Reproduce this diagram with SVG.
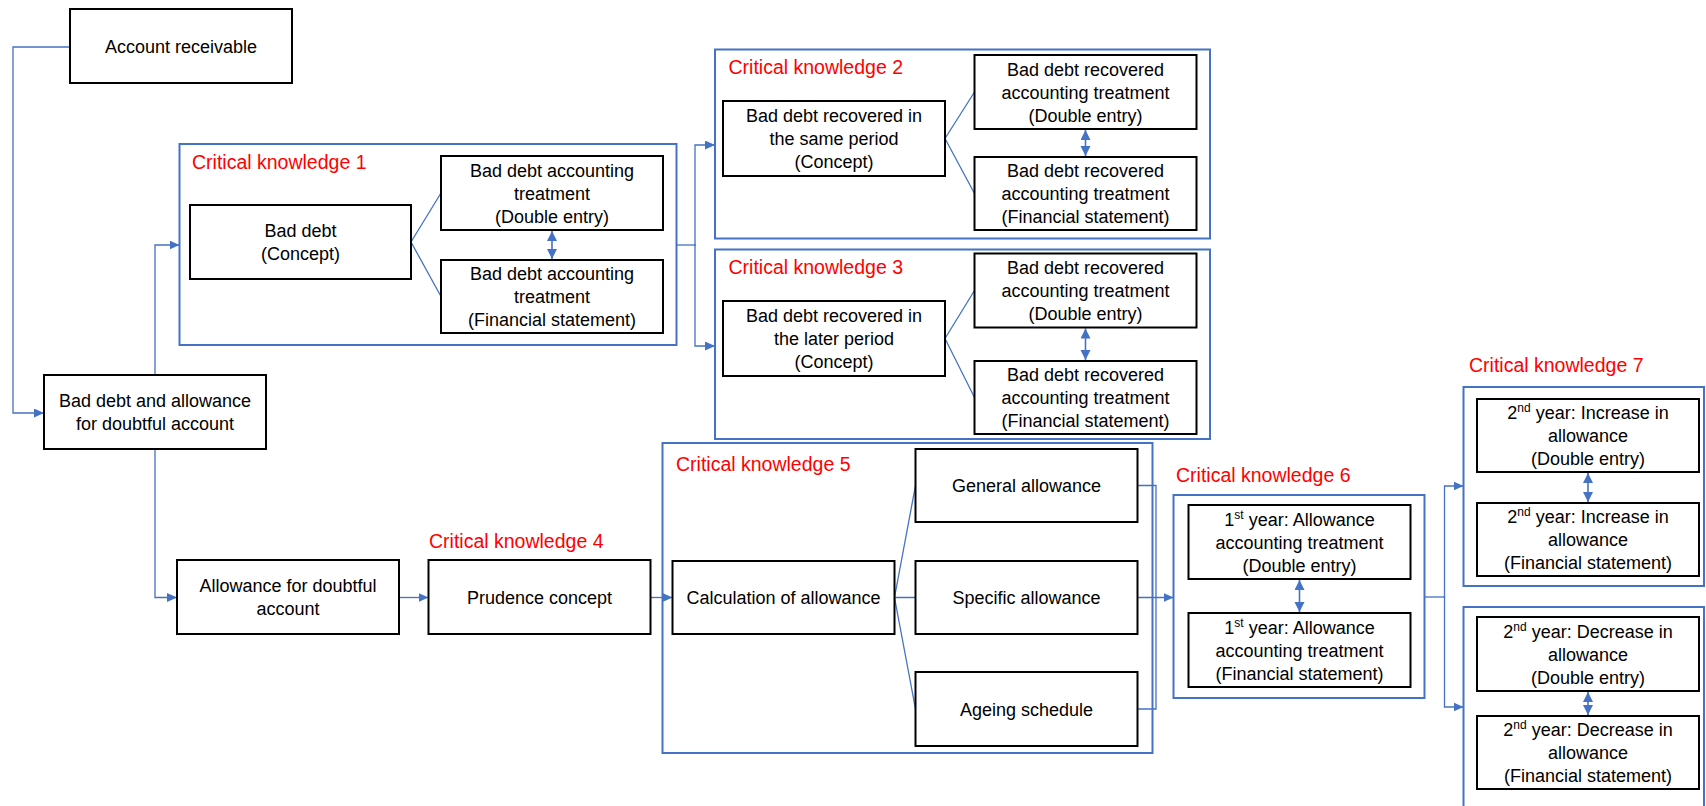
<svg xmlns="http://www.w3.org/2000/svg" width="1706" height="806" viewBox="0 0 1706 806">
<style>
.box{fill:#fff;stroke:#000;stroke-width:2}
.ck{fill:none;stroke:#4472C4;stroke-width:2}
.t{font-family:"Liberation Sans",Arial,sans-serif;font-size:18px;fill:#000;text-anchor:middle}
.ckt{font-family:"Liberation Sans",Arial,sans-serif;font-size:19.5px;fill:#FF0000}
.c{fill:none;stroke:#4472C4;stroke-width:1.3}
.a{marker-end:url(#ah)}
.d{fill:none;stroke:#4472C4;stroke-width:1.6;marker-start:url(#ah2);marker-end:url(#ah2)}
.sup{font-size:12px}
</style>
<defs>
<marker id="ah" markerUnits="userSpaceOnUse" markerWidth="11" markerHeight="10" refX="10" refY="4.5" orient="auto"><path d="M0,0 L10,4.5 L0,9 z" fill="#4472C4"/></marker>
<marker id="ah2" markerUnits="userSpaceOnUse" markerWidth="11" markerHeight="11" refX="10" refY="5" orient="auto-start-reverse"><path d="M0,0 L10,5 L0,10 z" fill="#4472C4"/></marker>
</defs>
<rect width="1706" height="806" fill="#fff"/>

<g id="connectors">
<path class="c a" d="M70,47 H13 V413 H44"/>
<path class="c a" d="M155,375 V245 H179.5"/>
<path class="c a" d="M155,449 V597.5 H177"/>
<path class="c a" d="M399,597.5 H428.5"/>
<path class="c a" d="M650.5,597.5 H672.5"/>
<path class="c" d="M676.5,245 H695"/>
<path class="c a" d="M695,246 V145 H715"/>
<path class="c a" d="M695,244 V346 H715"/>
<path class="c" d="M411,242 L441,193 M411,242 L441,296.5"/>
<path class="c" d="M945,138.5 L974.5,92 M945,138.5 L974.5,193.5"/>
<path class="c" d="M945,338.5 L974.5,290.5 M945,338.5 L974.5,397.5"/>
<path class="c" d="M894.5,597.5 L915.5,485.5 M894.5,597.5 L915.5,597.5 M894.5,597.5 L915.5,709"/>
<path class="c" d="M1137.5,485.5 H1156 V709 H1137.5"/>
<path class="c a" d="M1137.5,597.5 H1173.5"/>
<path class="c" d="M1424.5,597 H1444.5"/>
<path class="c a" d="M1444.5,598 V486 H1463.5"/>
<path class="c a" d="M1444.5,596 V707 H1463.5"/>
<path class="d" d="M552,231 V259"/>
<path class="d" d="M1085.5,130 V156"/>
<path class="d" d="M1085.5,328.5 V360"/>
<path class="d" d="M1299.5,580 V612"/>
<path class="d" d="M1588,473 V502"/>
<path class="d" d="M1588,692 V715"/>
</g>

<g id="ar"><rect class="box" x="70" y="9" width="222" height="74"/><text class="t" x="181" y="52.5">Account receivable</text></g>
<g id="bda"><rect class="box" x="44" y="375" width="222" height="74"/><text class="t" x="155" y="407">Bad debt and allowance</text><text class="t" x="155" y="430">for doubtful account</text></g>

<g id="ck1"><rect class="ck" x="179.5" y="144" width="497" height="201"/><text class="ckt" x="192" y="169">Critical knowledge 1</text></g>
<g id="ck1-concept"><rect class="box" x="190" y="205" width="221" height="74"/><text class="t" x="300.5" y="237">Bad debt</text><text class="t" x="300.5" y="260">(Concept)</text></g>
<g id="ck1-de"><rect class="box" x="441" y="156" width="222" height="74"/><text class="t" x="552" y="176.5">Bad debt accounting</text><text class="t" x="552" y="199.5">treatment</text><text class="t" x="552" y="222.5">(Double entry)</text></g>
<g id="ck1-fs"><rect class="box" x="441" y="260" width="222" height="73"/><text class="t" x="552" y="280">Bad debt accounting</text><text class="t" x="552" y="303">treatment</text><text class="t" x="552" y="326">(Financial statement)</text></g>

<g id="ck2"><rect class="ck" x="715" y="49.5" width="495" height="189"/><text class="ckt" x="728.5" y="74">Critical knowledge 2</text></g>
<g id="ck2-concept"><rect class="box" x="723" y="101" width="222" height="75"/><text class="t" x="834" y="122">Bad debt recovered in</text><text class="t" x="834" y="145">the same period</text><text class="t" x="834" y="168">(Concept)</text></g>
<g id="ck2-de"><rect class="box" x="974.5" y="55" width="222" height="74"/><text class="t" x="1085.5" y="75.5">Bad debt recovered</text><text class="t" x="1085.5" y="98.5">accounting treatment</text><text class="t" x="1085.5" y="121.5">(Double entry)</text></g>
<g id="ck2-fs"><rect class="box" x="974.5" y="157" width="222" height="73"/><text class="t" x="1085.5" y="177">Bad debt recovered</text><text class="t" x="1085.5" y="200">accounting treatment</text><text class="t" x="1085.5" y="223">(Financial statement)</text></g>

<g id="ck3"><rect class="ck" x="715" y="249.5" width="495" height="189.5"/><text class="ckt" x="728.5" y="274">Critical knowledge 3</text></g>
<g id="ck3-concept"><rect class="box" x="723" y="301" width="222" height="75"/><text class="t" x="834" y="322">Bad debt recovered in</text><text class="t" x="834" y="345">the later period</text><text class="t" x="834" y="368">(Concept)</text></g>
<g id="ck3-de"><rect class="box" x="974.5" y="253.5" width="222" height="74"/><text class="t" x="1085.5" y="274">Bad debt recovered</text><text class="t" x="1085.5" y="297">accounting treatment</text><text class="t" x="1085.5" y="320">(Double entry)</text></g>
<g id="ck3-fs"><rect class="box" x="974.5" y="361" width="222" height="73"/><text class="t" x="1085.5" y="381">Bad debt recovered</text><text class="t" x="1085.5" y="404">accounting treatment</text><text class="t" x="1085.5" y="427">(Financial statement)</text></g>

<g id="allowance"><rect class="box" x="177" y="560" width="222" height="74"/><text class="t" x="288" y="592">Allowance for doubtful</text><text class="t" x="288" y="615">account</text></g>
<g id="ck4"><text class="ckt" x="429" y="548">Critical knowledge 4</text><rect class="box" x="428.5" y="560" width="222" height="74"/><text class="t" x="539.5" y="603.5">Prudence concept</text></g>

<g id="ck5"><rect class="ck" x="662.5" y="443" width="490" height="310"/><text class="ckt" x="676" y="471">Critical knowledge 5</text></g>
<g id="calc"><rect class="box" x="672.5" y="561" width="222" height="73"/><text class="t" x="783.5" y="604">Calculation of allowance</text></g>
<g id="general"><rect class="box" x="915.5" y="449" width="222" height="73"/><text class="t" x="1026.5" y="492">General allowance</text></g>
<g id="specific"><rect class="box" x="915.5" y="561" width="222" height="73"/><text class="t" x="1026.5" y="604">Specific allowance</text></g>
<g id="ageing"><rect class="box" x="915.5" y="672" width="222" height="74"/><text class="t" x="1026.5" y="715.5">Ageing schedule</text></g>

<g id="ck6"><rect class="ck" x="1173.5" y="495" width="251" height="203"/><text class="ckt" x="1176" y="482">Critical knowledge 6</text></g>
<g id="ck6-de"><rect class="box" x="1188.5" y="505" width="222" height="74"/><text class="t" x="1299.5" y="525.5">1<tspan class="sup" dy="-7">st</tspan><tspan dy="7"> year: Allowance</tspan></text><text class="t" x="1299.5" y="548.5">accounting treatment</text><text class="t" x="1299.5" y="571.5">(Double entry)</text></g>
<g id="ck6-fs"><rect class="box" x="1188.5" y="613" width="222" height="74"/><text class="t" x="1299.5" y="633.5">1<tspan class="sup" dy="-7">st</tspan><tspan dy="7"> year: Allowance</tspan></text><text class="t" x="1299.5" y="656.5">accounting treatment</text><text class="t" x="1299.5" y="679.5">(Financial statement)</text></g>

<g id="ck7"><rect class="ck" x="1463.5" y="387" width="240.5" height="199"/><text class="ckt" x="1469" y="372">Critical knowledge 7</text></g>
<g id="ck7-de"><rect class="box" x="1477" y="399" width="222" height="73"/><text class="t" x="1588" y="419">2<tspan class="sup" dy="-7">nd</tspan><tspan dy="7"> year: Increase in</tspan></text><text class="t" x="1588" y="442">allowance</text><text class="t" x="1588" y="465">(Double entry)</text></g>
<g id="ck7-fs"><rect class="box" x="1477" y="503" width="222" height="73"/><text class="t" x="1588" y="523">2<tspan class="sup" dy="-7">nd</tspan><tspan dy="7"> year: Increase in</tspan></text><text class="t" x="1588" y="546">allowance</text><text class="t" x="1588" y="569">(Financial statement)</text></g>

<g id="ck8"><rect class="ck" x="1463.5" y="607" width="240.5" height="215"/></g>
<g id="ck8-de"><rect class="box" x="1477" y="617" width="222" height="74"/><text class="t" x="1588" y="637.5">2<tspan class="sup" dy="-7">nd</tspan><tspan dy="7"> year: Decrease in</tspan></text><text class="t" x="1588" y="660.5">allowance</text><text class="t" x="1588" y="683.5">(Double entry)</text></g>
<g id="ck8-fs"><rect class="box" x="1477" y="716" width="222" height="73"/><text class="t" x="1588" y="736">2<tspan class="sup" dy="-7">nd</tspan><tspan dy="7"> year: Decrease in</tspan></text><text class="t" x="1588" y="759">allowance</text><text class="t" x="1588" y="782">(Financial statement)</text></g>
</svg>
